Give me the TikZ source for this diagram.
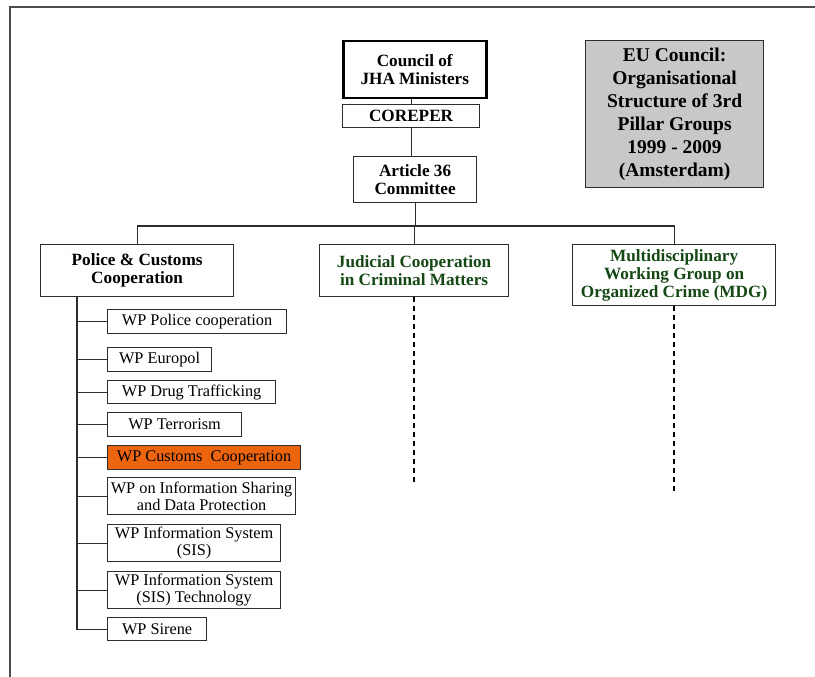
\documentclass[tikz,border=0pt]{standalone}
\usepackage{fontspec}
\setmainfont{Liberation Serif}
\definecolor{dgreen}{RGB}{22,72,22}
\definecolor{boxgray}{RGB}{200,200,200}
\definecolor{wporange}{RGB}{236,100,14}
\definecolor{lineclr}{RGB}{45,45,45}
\begin{document}
\begin{tikzpicture}[x=1pt,y=-1pt,
  box/.style={draw=lineclr,line width=1.2pt,rectangle,anchor=north west,inner sep=0pt,align=center,fill=white},
  head/.style={box,font=\fontsize{17.2}{18}\selectfont\bfseries},
  ghead/.style={head,text=dgreen},
  wp/.style={box,font=\fontsize{16.3}{17}\selectfont},
  conn/.style={draw=lineclr,line width=1.2pt},
  dconn/.style={draw=black,line width=1.3pt,dash pattern=on 5pt off 4pt}]
\useasboundingbox (0,0) rectangle (815,677);
% outer frame (top and left edges)
\draw[draw=black!70,line width=1.5pt] (10,677) -- (10,7) -- (815,7);

\node[head,line width=2.5pt,draw=black,minimum width=143pt,minimum height=57pt] (council) at (342,40) {Council of\\JHA Ministers};
\node[head,minimum width=137pt,minimum height=23pt] (coreper) at (342,104) {COREPER};
\node[head,minimum width=123pt,minimum height=46pt] (art) at (353,156) {Article 36\\Committee};
\node[box,fill=boxgray,font=\fontsize{19.5}{23}\selectfont\bfseries,minimum width=178pt,minimum height=147pt] (eu) at (585,40) {EU Council:\\Organisational\\Structure of 3rd\\Pillar Groups\\1999 - 2009\\(Amsterdam)};

\node[head,minimum width=193pt,minimum height=52pt] (police) at (40,244) {Police \& Customs\\Cooperation};
\node[ghead,minimum width=189pt,minimum height=52pt] (judicial) at (319,244) {Judicial Cooperation\\in Criminal Matters};
\node[ghead,minimum width=203pt,minimum height=61pt] (mdg) at (572,244) {Multidisciplinary\\Working Group on\\Organized Crime (MDG)};

\node[wp,minimum width=179pt,minimum height=24pt] (wp1) at (107,309) {WP Police cooperation};
\node[wp,minimum width=104pt,minimum height=24pt] (wp2) at (107,347) {WP Europol};
\node[wp,minimum width=168pt,minimum height=23pt] (wp3) at (107,380) {WP Drug Trafficking};
\node[wp,minimum width=134pt,minimum height=24pt] (wp4) at (107,412) {WP Terrorism};
\node[wp,fill=wporange,minimum width=193pt,minimum height=24pt] (wp5) at (107,445) {WP Customs\ \ Cooperation};
\node[wp,minimum width=188pt,minimum height=37pt] (wp6) at (107,477) {WP on Information Sharing\\and Data Protection};
\node[wp,minimum width=173pt,minimum height=37pt] (wp7) at (107,524) {WP Information System\\(SIS)};
\node[wp,minimum width=173pt,minimum height=37pt] (wp8) at (107,571) {WP Information System\\(SIS) Technology};
\node[wp,minimum width=99pt,minimum height=23pt] (wp9) at (107,617) {WP Sirene};

% top chain
\draw[conn] (council.south -| coreper.north) -- (coreper.north);
\draw[conn] (coreper.south) -- (coreper.south |- art.north);
% bus
\draw[conn] (police.north) -- ++(0,-18) coordinate (bl) -| (mdg.north);
\draw[conn] (art.south) -- (art.south |- bl);
\draw[conn] (judicial.north) -- (judicial.north |- bl);
% police trunk
\coordinate (trunk) at (77,296);
\draw[conn] (trunk) |- (wp9.west);
\foreach \w in {wp1,wp2,wp3,wp4,wp5,wp6,wp7,wp8}{
  \draw[conn] (\w.west -| trunk) -- (\w.west);
}
% dashed continuations
\draw[dconn] (judicial.south) -- ++(0,187);
\draw[dconn] (mdg.south) -- ++(0,188);
\end{tikzpicture}
\end{document}
